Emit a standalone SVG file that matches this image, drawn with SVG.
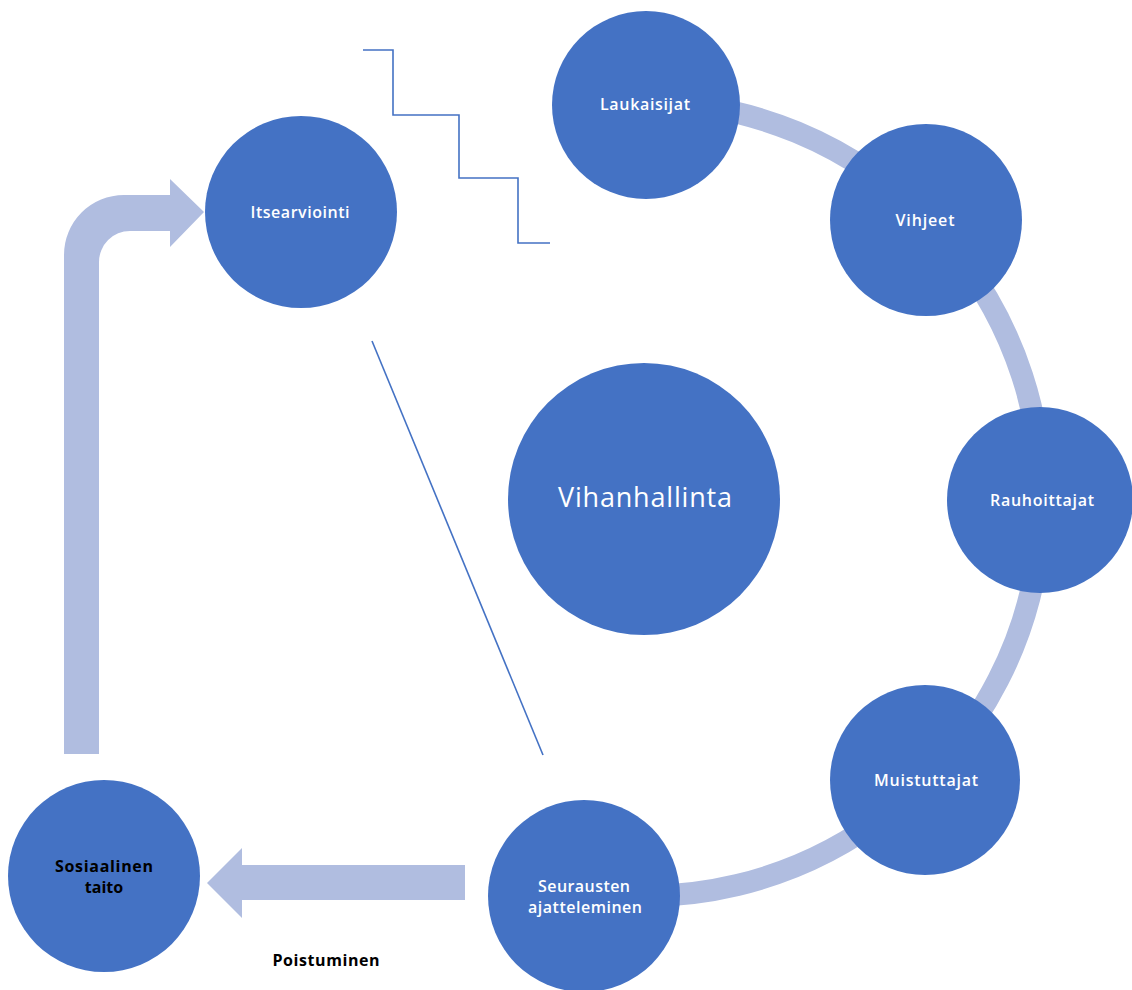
<svg xmlns="http://www.w3.org/2000/svg" width="1132" height="990" viewBox="0 0 1132 990">
<style>
.node{fill:#4472C4;}
.lbl{font-family:"Open Sans","Noto Sans",sans-serif;font-size:16px;font-weight:600;fill:#FFFFFF;text-anchor:middle;}
.dark{font-family:"Open Sans","Noto Sans",sans-serif;font-size:16px;font-weight:bold;fill:#000000;text-anchor:middle;}
.band{fill:none;stroke:#B0BDE0;stroke-width:22;}
.arrow{fill:#B0BDE0;}
.thin{fill:none;stroke:#4472C4;stroke-width:1.6;}
</style>
<rect width="1132" height="990" fill="#FFFFFF"/>
<g id="connectors">
  <path class="band" d="M 644 102 A 397 397 0 1 1 582 891"/>
  <path class="arrow" d="M 64 754 L 64 255 A 60 60 0 0 1 124 195 L 170 195 L 170 179 L 204 212 L 170 247 L 170 231 L 130 231 A 31 31 0 0 0 99 262 L 99 754 Z"/>
  <path class="arrow" d="M 465 865 L 242 865 L 242 848 L 207 883 L 242 918 L 242 900 L 465 900 Z"/>
  <polyline class="thin" points="363,50 393,50 393,115 459,115 459,178 518,178 518,243 550,243"/>
  <line class="thin" x1="372" y1="341" x2="543" y2="755"/>
</g>
<g id="vihanhallinta">
  <circle class="node" cx="644" cy="499" r="136"/>
  <text class="lbl" x="645" y="507" style="font-size:27px;font-weight:normal" textLength="174" lengthAdjust="spacing">Vihanhallinta</text>
</g>
<g id="laukaisijat">
  <circle class="node" cx="646" cy="105" r="94"/>
  <text class="lbl" x="645" y="110" textLength="90" lengthAdjust="spacing">Laukaisijat</text>
</g>
<g id="vihjeet">
  <circle class="node" cx="926" cy="220" r="96"/>
  <text class="lbl" x="925" y="226" textLength="59" lengthAdjust="spacing">Vihjeet</text>
</g>
<g id="rauhoittajat">
  <circle class="node" cx="1040" cy="500" r="93"/>
  <text class="lbl" x="1042" y="506" textLength="104" lengthAdjust="spacing">Rauhoittajat</text>
</g>
<g id="muistuttajat">
  <circle class="node" cx="925" cy="780" r="95"/>
  <text class="lbl" x="926" y="786" textLength="104" lengthAdjust="spacing">Muistuttajat</text>
</g>
<g id="seurausten">
  <circle class="node" cx="584" cy="896" r="96"/>
  <text class="lbl" x="584" y="892" textLength="92" lengthAdjust="spacing">Seurausten</text>
  <text class="lbl" x="585" y="913" textLength="114" lengthAdjust="spacing">ajatteleminen</text>
</g>
<g id="sosiaalinen">
  <circle class="node" cx="104" cy="876" r="96"/>
  <text class="dark" x="104" y="872" textLength="98" lengthAdjust="spacing">Sosiaalinen</text>
  <text class="dark" x="104" y="893">taito</text>
</g>
<g id="itsearviointi">
  <circle class="node" cx="301" cy="212" r="96"/>
  <text class="lbl" x="300" y="218" textLength="99" lengthAdjust="spacing">Itsearviointi</text>
</g>
<g id="poistuminen">
  <text class="dark" x="326" y="966" textLength="107" lengthAdjust="spacing">Poistuminen</text>
</g>
</svg>
